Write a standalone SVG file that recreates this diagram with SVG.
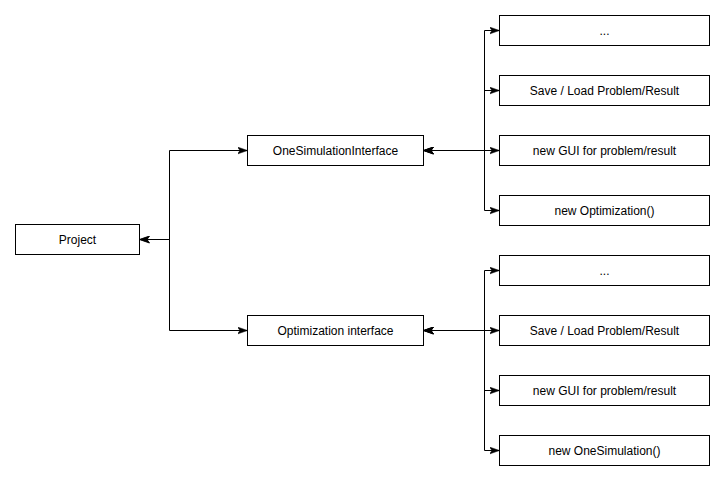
<svg xmlns="http://www.w3.org/2000/svg" width="724" height="480" viewBox="0 0 724 480">
<style>
.box{fill:#ffffff;stroke:#000000;stroke-width:1}
.lbl{font-family:"Liberation Sans",Arial,sans-serif;font-size:12px;fill:#000000;text-anchor:middle}
.edge{fill:none;stroke:#000000;stroke-width:1;marker-start:url(#arr);marker-end:url(#arr)}
</style>
<defs>
<marker id="arr" viewBox="0 0 10 8" refX="10" refY="4" markerWidth="10" markerHeight="8" markerUnits="userSpaceOnUse" orient="auto-start-reverse">
<path d="M0,0.5 L10,4 L0,7.5 L2.5,4 Z" fill="#000000" stroke="#000000" stroke-width="0.5"/>
</marker>
</defs>
<rect width="724" height="480" fill="#ffffff"/>
<g id="connectors">
<path class="edge" d="M139.5,239.5 H169.5 V150.5 H247.5"/>
<path class="edge" d="M139.5,239.5 H169.5 V330.5 H247.5"/>
<path class="edge" d="M423.5,150.5 H484.5 V30.5 H499.5"/>
<path class="edge" d="M423.5,150.5 H484.5 V90.5 H499.5"/>
<path class="edge" d="M423.5,150.5 H499.5"/>
<path class="edge" d="M423.5,150.5 H484.5 V210.5 H499.5"/>
<path class="edge" d="M423.5,330.5 H484.5 V270.5 H499.5"/>
<path class="edge" d="M423.5,330.5 H499.5"/>
<path class="edge" d="M423.5,330.5 H484.5 V390.5 H499.5"/>
<path class="edge" d="M423.5,330.5 H484.5 V450.5 H499.5"/>
</g>
<g id="project"><rect class="box" x="15.5" y="224.5" width="124" height="30"/><text class="lbl" x="77.5" y="243.5">Project</text></g>
<g id="oneSimInterface"><rect class="box" x="247.5" y="135.5" width="176" height="30"/><text class="lbl" x="335.5" y="154.5">OneSimulationInterface</text></g>
<g id="optInterface"><rect class="box" x="247.5" y="315.5" width="176" height="30"/><text class="lbl" x="335.5" y="334.5">Optimization interface</text></g>
<g id="top1"><rect class="box" x="499.5" y="15.5" width="210" height="30"/><text class="lbl" x="604.5" y="34.5">...</text></g>
<g id="top2"><rect class="box" x="499.5" y="75.5" width="210" height="30"/><text class="lbl" x="604.5" y="94.5">Save / Load Problem/Result</text></g>
<g id="top3"><rect class="box" x="499.5" y="135.5" width="210" height="30"/><text class="lbl" x="604.5" y="154.5">new GUI for problem/result</text></g>
<g id="top4"><rect class="box" x="499.5" y="195.5" width="210" height="30"/><text class="lbl" x="604.5" y="214.5">new Optimization()</text></g>
<g id="bot1"><rect class="box" x="499.5" y="255.5" width="210" height="30"/><text class="lbl" x="604.5" y="274.5">...</text></g>
<g id="bot2"><rect class="box" x="499.5" y="315.5" width="210" height="30"/><text class="lbl" x="604.5" y="334.5">Save / Load Problem/Result</text></g>
<g id="bot3"><rect class="box" x="499.5" y="375.5" width="210" height="30"/><text class="lbl" x="604.5" y="394.5">new GUI for problem/result</text></g>
<g id="bot4"><rect class="box" x="499.5" y="435.5" width="210" height="30"/><text class="lbl" x="604.5" y="454.5">new OneSimulation()</text></g>
</svg>
